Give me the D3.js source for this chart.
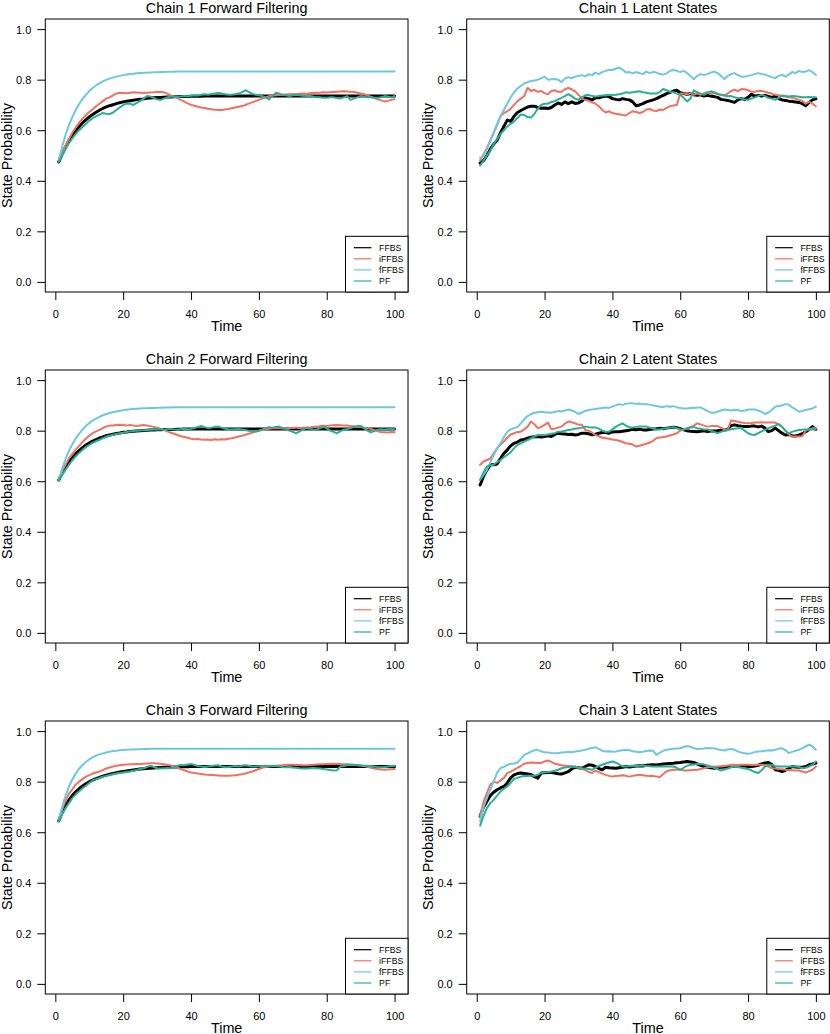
<!DOCTYPE html>
<html><head><meta charset="utf-8">
<script src="https://cdnjs.cloudflare.com/ajax/libs/d3/7.8.5/d3.min.js"></script>
<style>body{margin:0;background:#fff}text{font-family:"Liberation Sans",Arial,Helvetica,sans-serif;fill:#000}</style>
</head><body><svg id="c" width="830" height="1034"></svg>
<script>
const time = d3.range(1, 101);
const seriesNames = ["FFBS", "iFFBS", "fFFBS", "PF"];
const titles = ["Chain 1 Forward Filtering", "Chain 1 Latent States", "Chain 2 Forward Filtering", "Chain 2 Latent States", "Chain 3 Forward Filtering", "Chain 3 Latent States"];
const xTicks = [0, 20, 40, 60, 80, 100];
const yTicks = [0, 0.2, 0.4, 0.6, 0.8, 1.0];

// ---- Chain 1 Forward Filtering
const ffbs1 = [.475,.506,.534,.558,.579,.598,.614,.629,.641,.653,.662,.671,.679,.686,.692,.697,.701,.705,.709,.712,.715,.717,.719,.721,.723,.724,.726,.727,.728,.729,.729,.730,.731,.731,.732,.732,.733,.733,.733,.734,.734,.734,.734,.735,.735,.735,.735,.735,.735,.735,
.735,.735,.735,.735,.735,.735,.735,.735,.735,.735,.735,.735,.735,.735,.735,.735,.735,.735,.735,.735,.735,.735,.735,.735,.735,.735,.735,.735,.735,.735,.735,.735,.735,.735,.735,.735,.735,.735,.735,.735,.735,.735,.735,.735,.735,.735,.735,.735,.735,.735];
const iffbs1 = [.48,.51,.54,.565,.59,.61,.63,.645,.66,.672,.683,.695,.705,.715,.725,.73,.738,.745,.748,.747,.746,.748,.75,.749,.748,.747,.748,.749,.75,.752,.751,.75,.745,.738,.733,.728,.72,.713,.706,.70,.697,.693,.69,.688,.685,.683,.681,.68,.68,.682,
.684,.687,.69,.693,.696,.70,.705,.71,.715,.72,.725,.73,.735,.737,.738,.739,.74,.741,.742,.743,.742,.744,.745,.744,.746,.747,.748,.748,.75,.749,.75,.751,.752,.753,.754,.753,.752,.751,.748,.745,.742,.738,.733,.728,.722,.718,.714,.716,.72,.723];
const fffbs1 = [.480,.535,.581,.620,.652,.680,.704,.724,.740,.755,.767,.777,.785,.793,.799,.804,.808,.812,.815,.818,.820,.822,.823,.825,.826,.827,.827,.828,.829,.829,.830,.830,.831,.831,.831,.832,.832,.832,.832,.832,.832,.832,.832,.832,.832,.832,.832,.832,.832,.832,
.832,.832,.832,.832,.832,.832,.832,.832,.832,.832,.832,.832,.832,.832,.832,.832,.832,.832,.832,.832,.832,.832,.832,.832,.832,.832,.832,.832,.832,.832,.832,.832,.832,.832,.832,.832,.832,.832,.832,.832,.832,.832,.832,.832,.832,.832,.832,.832,.832,.832];
const pf1 = [.475,.50,.525,.548,.568,.585,.60,.613,.625,.638,.648,.655,.662,.668,.665,.664,.67,.68,.69,.70,.705,.705,.70,.708,.715,.725,.735,.733,.728,.722,.72,.725,.73,.732,.733,.731,.733,.735,.734,.736,.738,.737,.74,.742,.74,.743,.745,.747,.745,.742,
.74,.74,.742,.745,.75,.758,.752,.745,.74,.738,.735,.73,.722,.735,.748,.745,.74,.738,.735,.738,.74,.738,.736,.735,.735,.733,.73,.73,.728,.728,.73,.73,.727,.725,.73,.735,.72,.725,.73,.735,.733,.73,.73,.728,.728,.73,.735,.733,.73,.735];

// ---- Chain 1 Latent States
const ffbs2 = [.47,.48,.50,.525,.545,.56,.59,.615,.64,.635,.655,.67,.678,.685,.692,.695,.695,.69,.687,.688,.686,.69,.70,.708,.702,.712,.705,.712,.706,.708,.715,.728,.725,.72,.728,.728,.732,.735,.733,.725,.722,.72,.725,.722,.72,.712,.697,.70,.705,.712,
.716,.72,.725,.732,.738,.745,.75,.755,.758,.748,.745,.742,.745,.74,.738,.74,.735,.738,.735,.733,.73,.722,.72,.718,.714,.71,.72,.725,.722,.73,.742,.735,.738,.735,.738,.734,.73,.735,.725,.72,.718,.715,.714,.712,.71,.705,.697,.71,.72,.724];
const iffbs2 = [.48,.505,.53,.56,.59,.62,.655,.668,.675,.685,.70,.715,.725,.735,.768,.755,.76,.752,.755,.747,.742,.755,.758,.752,.752,.762,.767,.762,.754,.74,.725,.72,.716,.71,.705,.695,.681,.67,.675,.668,.665,.663,.66,.658,.668,.675,.672,.668,.672,.682,
.684,.678,.676,.682,.68,.688,.695,.698,.70,.745,.745,.742,.747,.74,.745,.74,.747,.75,.745,.748,.742,.74,.738,.745,.755,.76,.755,.763,.762,.758,.752,.752,.755,.755,.752,.748,.745,.74,.738,.735,.733,.73,.728,.725,.72,.716,.705,.712,.705,.695];
const fffbs2 = [.49,.50,.525,.56,.59,.625,.655,.68,.705,.73,.75,.765,.775,.785,.79,.795,.797,.80,.805,.812,.80,.802,.803,.80,.79,.805,.81,.805,.812,.815,.818,.813,.822,.818,.828,.822,.83,.835,.838,.838,.843,.848,.84,.828,.83,.825,.83,.826,.822,.832,
.826,.83,.828,.822,.82,.825,.835,.838,.835,.83,.835,.826,.815,.802,.815,.822,.818,.822,.828,.832,.826,.815,.803,.815,.822,.826,.818,.812,.812,.815,.818,.822,.826,.822,.82,.815,.81,.806,.815,.82,.812,.82,.83,.826,.835,.83,.832,.838,.83,.818];
const pf2 = [.46,.48,.50,.52,.545,.565,.585,.60,.615,.625,.635,.648,.662,.66,.652,.65,.665,.685,.70,.705,.705,.712,.715,.722,.728,.735,.743,.735,.725,.72,.73,.738,.74,.735,.733,.735,.737,.737,.74,.738,.74,.742,.745,.75,.748,.75,.752,.754,.75,.748,
.745,.745,.745,.752,.763,.758,.752,.75,.745,.74,.728,.714,.725,.758,.75,.745,.74,.748,.754,.75,.745,.74,.737,.734,.735,.73,.728,.725,.722,.72,.725,.73,.735,.74,.735,.728,.725,.72,.728,.737,.735,.733,.735,.734,.732,.73,.73,.731,.73,.73];

// ---- Chain 2 Forward Filtering
const ffbs3 = [.605,.632,.655,.675,.693,.708,.721,.733,.743,.751,.759,.765,.771,.775,.780,.783,.786,.789,.791,.794,.795,.797,.798,.799,.800,.801,.802,.803,.803,.804,.804,.805,.805,.805,.805,.806,.806,.807,.807,.807,.807,.807,.807,.807,.807,.807,.807,.807,.807,.807,
.807,.807,.807,.807,.807,.807,.807,.807,.807,.807,.807,.807,.807,.807,.807,.807,.807,.807,.807,.807,.807,.807,.807,.807,.807,.807,.807,.807,.807,.807,.807,.807,.807,.807,.807,.807,.807,.807,.807,.807,.807,.807,.807,.807,.807,.807,.807,.807,.807,.807];
const iffbs3 = [.605,.64,.665,.69,.708,.725,.74,.755,.768,.78,.79,.797,.803,.81,.817,.82,.82,.822,.823,.822,.82,.823,.82,.818,.82,.822,.82,.818,.815,.812,.808,.803,.797,.792,.788,.783,.778,.775,.772,.768,.766,.767,.765,.764,.765,.763,.766,.764,.766,.765,
.768,.77,.773,.777,.78,.784,.788,.792,.797,.80,.803,.806,.808,.81,.81,.811,.809,.81,.81,.811,.812,.81,.812,.813,.813,.815,.816,.818,.819,.818,.82,.821,.822,.821,.82,.82,.818,.817,.816,.814,.812,.81,.807,.803,.798,.795,.794,.793,.795,.794];
const fffbs3 = [.605,.650,.687,.719,.746,.769,.788,.804,.818,.830,.840,.848,.855,.861,.866,.870,.873,.876,.879,.881,.883,.885,.886,.887,.888,.889,.889,.890,.890,.891,.891,.892,.892,.892,.893,.893,.893,.893,.893,.893,.893,.893,.893,.893,.893,.893,.893,.893,.893,.893,
.893,.893,.893,.893,.893,.893,.893,.893,.893,.893,.893,.893,.893,.893,.893,.893,.893,.893,.893,.893,.893,.893,.893,.893,.893,.893,.893,.893,.893,.893,.893,.893,.893,.893,.893,.893,.893,.893,.893,.893,.893,.893,.893,.893,.893,.893,.893,.893,.893,.893];
const pf3 = [.605,.625,.645,.665,.683,.698,.712,.724,.735,.744,.752,.758,.764,.77,.776,.78,.784,.787,.79,.792,.795,.797,.799,.80,.801,.802,.803,.804,.805,.806,.805,.804,.806,.807,.805,.804,.806,.808,.806,.807,.81,.815,.819,.814,.81,.812,.815,.816,.812,.808,
.806,.805,.806,.807,.805,.803,.80,.798,.797,.80,.805,.81,.814,.812,.815,.816,.81,.806,.80,.795,.79,.797,.805,.81,.808,.804,.804,.81,.816,.81,.80,.795,.79,.797,.804,.806,.81,.815,.818,.819,.81,.80,.793,.798,.804,.806,.805,.806,.807,.806];

// ---- Chain 2 Latent States
const ffbs4 = [.585,.62,.645,.665,.665,.668,.69,.71,.724,.74,.75,.755,.763,.765,.77,.774,.776,.777,.775,.777,.78,.777,.785,.79,.788,.787,.785,.786,.783,.785,.79,.79,.788,.784,.786,.79,.793,.793,.79,.795,.796,.796,.798,.80,.802,.805,.804,.806,.803,.803,
.805,.807,.808,.81,.808,.81,.812,.814,.812,.808,.803,.80,.798,.797,.796,.798,.80,.797,.799,.799,.80,.802,.803,.805,.82,.823,.82,.818,.816,.816,.818,.818,.815,.818,.81,.796,.80,.81,.80,.79,.783,.785,.78,.779,.782,.788,.796,.805,.816,.805];
const iffbs4 = [.665,.678,.684,.69,.71,.73,.745,.757,.772,.785,.79,.795,.796,.805,.816,.836,.825,.81,.815,.823,.832,.806,.808,.812,.816,.828,.836,.833,.829,.823,.823,.803,.80,.792,.783,.778,.772,.77,.768,.765,.763,.76,.755,.75,.748,.745,.737,.74,.744,.748,
.753,.76,.77,.773,.775,.777,.782,.785,.79,.80,.805,.81,.815,.82,.829,.825,.82,.816,.818,.818,.818,.812,.805,.803,.84,.838,.835,.832,.83,.829,.83,.832,.832,.833,.832,.832,.832,.832,.825,.816,.80,.785,.777,.777,.777,.778,.80,.805,.81,.81];
const fffbs4 = [.605,.625,.645,.675,.704,.73,.75,.775,.796,.805,.81,.815,.829,.845,.858,.865,.871,.873,.875,.873,.872,.871,.874,.878,.876,.88,.884,.88,.874,.866,.872,.878,.882,.884,.886,.888,.89,.892,.89,.895,.90,.905,.902,.906,.908,.908,.906,.907,.905,.905,
.903,.90,.898,.895,.893,.897,.895,.897,.893,.89,.888,.888,.89,.89,.892,.892,.885,.878,.872,.871,.875,.88,.884,.882,.88,.883,.882,.878,.88,.884,.884,.884,.88,.875,.866,.872,.882,.895,.898,.90,.905,.903,.892,.885,.875,.878,.882,.885,.888,.895];
const pf4 = [.605,.635,.658,.662,.665,.675,.684,.695,.704,.715,.73,.744,.75,.757,.763,.77,.777,.783,.783,.783,.785,.788,.79,.796,.797,.80,.803,.805,.808,.81,.812,.816,.814,.813,.813,.808,.80,.796,.796,.805,.815,.823,.829,.82,.813,.813,.815,.816,.816,.816,
.812,.808,.805,.805,.808,.81,.812,.814,.81,.806,.803,.808,.812,.814,.81,.808,.805,.805,.80,.795,.79,.795,.80,.803,.806,.808,.81,.81,.80,.79,.785,.783,.79,.797,.803,.81,.815,.82,.826,.815,.80,.79,.795,.80,.803,.804,.805,.805,.805,.805];

// ---- Chain 3 Forward Filtering
const ffbs5 = [.645,.68,.705,.727,.745,.76,.772,.783,.792,.80,.806,.812,.817,.822,.826,.829,.832,.835,.838,.84,.842,.844,.846,.848,.85,.851,.852,.853,.854,.855,.856,.857,.857,.858,.858,.858,.859,.859,.859,.86,.86,.86,.86,.86,.86,.86,.86,.86,.86,.86,
.86,.86,.86,.86,.86,.86,.86,.86,.86,.86,.86,.86,.86,.86,.86,.86,.86,.86,.86,.86,.86,.86,.86,.86,.86,.86,.86,.86,.86,.86,.86,.86,.86,.86,.86,.86,.86,.86,.86,.86,.86,.86,.86,.86,.86,.86,.86,.86,.86,.86];
const iffbs5 = [.645,.69,.725,.752,.77,.788,.80,.81,.82,.826,.832,.836,.84,.846,.852,.856,.86,.863,.865,.867,.868,.869,.869,.87,.87,.871,.872,.873,.873,.872,.871,.869,.867,.864,.86,.855,.85,.845,.84,.836,.834,.832,.83,.828,.827,.826,.825,.824,.823,.823,
.823,.824,.825,.827,.829,.832,.836,.84,.845,.85,.855,.858,.86,.862,.863,.864,.865,.866,.867,.867,.866,.866,.865,.865,.866,.867,.868,.869,.869,.87,.87,.871,.87,.87,.869,.869,.868,.867,.866,.864,.862,.859,.855,.852,.85,.848,.847,.848,.849,.85];
const fffbs5 = [.645,.700,.744,.780,.809,.832,.851,.866,.878,.888,.896,.903,.908,.912,.915,.918,.921,.922,.924,.925,.926,.927,.927,.928,.928,.929,.929,.93,.93,.93,.93,.93,.93,.93,.93,.93,.93,.93,.93,.93,.93,.93,.93,.93,.93,.93,.93,.93,.93,.93,
.93,.93,.93,.93,.93,.93,.93,.93,.93,.93,.93,.93,.93,.93,.93,.93,.93,.93,.93,.93,.93,.93,.93,.93,.93,.93,.93,.93,.93,.93,.93,.93,.93,.93,.93,.93,.93,.93,.93,.93,.93,.93,.93,.93,.93,.93,.93,.93,.93,.93];
const pf5 = [.645,.67,.695,.715,.735,.75,.762,.774,.784,.795,.805,.81,.815,.82,.823,.826,.829,.832,.834,.836,.838,.84,.843,.846,.85,.853,.858,.863,.858,.853,.852,.853,.854,.853,.856,.863,.866,.865,.868,.87,.866,.862,.86,.858,.86,.862,.864,.865,.86,.857,
.858,.86,.862,.86,.863,.865,.863,.86,.86,.861,.862,.863,.862,.863,.862,.86,.858,.857,.858,.856,.855,.853,.852,.852,.853,.854,.853,.852,.85,.848,.846,.844,.845,.86,.862,.865,.867,.866,.865,.864,.863,.863,.862,.86,.858,.857,.857,.86,.862,.863];

// ---- Chain 3 Latent States
const ffbs6 = [.663,.70,.722,.745,.758,.768,.775,.781,.795,.815,.827,.832,.834,.832,.83,.828,.82,.814,.834,.835,.836,.836,.834,.831,.83,.835,.84,.85,.857,.855,.853,.86,.867,.865,.86,.852,.847,.857,.855,.854,.853,.855,.857,.86,.858,.86,.862,.863,.862,.865,
.866,.867,.866,.868,.87,.871,.872,.873,.875,.876,.878,.88,.878,.876,.87,.865,.86,.857,.855,.853,.855,.857,.857,.858,.86,.861,.862,.863,.862,.86,.86,.862,.865,.87,.874,.876,.868,.847,.845,.84,.845,.852,.86,.858,.857,.857,.86,.867,.87,.874];
const iffbs6 = [.663,.72,.755,.788,.80,.795,.805,.815,.834,.84,.847,.855,.862,.871,.874,.876,.875,.874,.874,.88,.884,.878,.871,.868,.865,.863,.862,.861,.86,.855,.85,.847,.838,.834,.844,.838,.832,.827,.823,.82,.822,.823,.825,.823,.82,.823,.825,.827,.825,.823,
.822,.823,.82,.818,.83,.841,.845,.847,.847,.847,.845,.844,.845,.846,.847,.85,.853,.857,.858,.86,.86,.86,.862,.864,.866,.867,.866,.867,.867,.867,.866,.866,.867,.867,.865,.86,.853,.852,.85,.849,.847,.846,.845,.844,.844,.84,.836,.842,.847,.86];
const fffbs6 = [.645,.70,.735,.77,.80,.835,.854,.858,.866,.871,.872,.875,.89,.906,.912,.919,.924,.926,.92,.916,.915,.913,.912,.913,.915,.916,.918,.916,.919,.921,.923,.926,.93,.933,.936,.93,.922,.919,.92,.918,.919,.922,.924,.926,.924,.92,.918,.916,.918,.921,
.923,.922,.906,.915,.922,.926,.928,.93,.931,.932,.937,.941,.938,.932,.929,.93,.931,.933,.932,.932,.928,.925,.923,.927,.929,.926,.92,.915,.912,.91,.913,.917,.919,.92,.922,.924,.923,.926,.93,.932,.925,.913,.918,.922,.926,.932,.94,.946,.94,.926];
const pf6 = [.626,.665,.695,.715,.728,.745,.761,.772,.781,.795,.811,.815,.82,.823,.822,.823,.823,.828,.834,.836,.838,.84,.843,.847,.853,.856,.858,.86,.858,.855,.853,.852,.85,.847,.855,.862,.867,.872,.876,.88,.875,.868,.86,.86,.862,.863,.862,.863,.863,.862,
.861,.86,.86,.86,.86,.86,.86,.86,.855,.847,.855,.863,.866,.868,.87,.871,.868,.864,.86,.855,.85,.844,.848,.852,.857,.86,.858,.855,.852,.85,.845,.838,.834,.845,.86,.867,.865,.862,.86,.86,.86,.86,.86,.86,.858,.853,.855,.86,.867,.88];

const panelData = [
  [ffbs1, iffbs1, fffbs1, pf1],
  [ffbs2, iffbs2, fffbs2, pf2],
  [ffbs3, iffbs3, fffbs3, pf3],
  [ffbs4, iffbs4, fffbs4, pf4],
  [ffbs5, iffbs5, fffbs5, pf5],
  [ffbs6, iffbs6, fffbs6, pf6]
];

const colors = ["#000000", "#F1705F", "#6DC7E0", "#27B096"];
const widths = [3, 2, 2, 2];

const svg = d3.select("#c");
svg.append("rect").attr("width", 830).attr("height", 1034).attr("fill", "#fff");

panelData.forEach((ser, i) => {
  const col = i % 2, row = Math.floor(i / 2);
  const L = col ? 466.7 : 45.3, R = col ? 829.3 : 408;
  const T = 19 + row * 351, B = 292 + row * 351;
  const x = d3.scaleLinear().domain([1 - 0.04 * 99, 100 + 0.04 * 99]).range([L, R]);
  const y = d3.scaleLinear().domain([-0.04, 1.04]).range([B, T]);
  const g = svg.append("g");

  // axes
  const xa = g.append("g").attr("transform", `translate(0,${B})`)
    .call(d3.axisBottom(x).tickValues(xTicks).tickSize(8).tickFormat(d3.format("d")));
  xa.select(".domain").remove();
  xa.selectAll("line").attr("stroke", "#000");
  xa.selectAll("text").attr("y", 25.7).attr("dy", null).style("font-size", "11px").attr("fill", "#000");

  const ya = g.append("g").attr("transform", `translate(${L},0)`)
    .call(d3.axisLeft(y).tickValues(yTicks).tickSize(8).tickFormat(d3.format(".1f")));
  ya.select(".domain").remove();
  ya.selectAll("line").attr("stroke", "#000");
  ya.selectAll("text").attr("x", -14).attr("dy", "0.36em").style("font-size", "11px").attr("fill", "#000");

  // lines
  const line = d3.line().x((d, j) => x(time[j])).y(d => y(d));
  ser.forEach((s, k) => {
    g.append("path").datum(s).attr("d", line).attr("fill", "none")
      .attr("stroke", colors[k]).attr("stroke-width", widths[k])
      .attr("stroke-linejoin", "round").attr("stroke-linecap", "round");
  });

  // box
  g.append("rect").attr("x", L).attr("y", T).attr("width", R - L).attr("height", B - T)
    .attr("fill", "none").attr("stroke", "#000").attr("stroke-width", 1);

  // legend
  const lw = 62.5, lh = 55.7;
  const lg = g.append("g").attr("transform", `translate(${R - lw},${B - lh})`);
  lg.append("rect").attr("width", lw).attr("height", lh).attr("fill", "#fff").attr("stroke", "#000").attr("stroke-width", 1);
  seriesNames.forEach((n, k) => {
    const yy = 11.4 + k * 11.1;
    lg.append("line").attr("x1", 8.3).attr("x2", 26).attr("y1", yy).attr("y2", yy)
      .attr("stroke", colors[k]).attr("stroke-width", 1.2);
    lg.append("text").attr("x", 33.6).attr("y", yy).attr("dy", "0.35em").style("font-size", "8.7px").text(n);
  });

  // titles
  g.append("text").attr("x", (L + R) / 2).attr("y", T - 6.5).attr("text-anchor", "middle")
    .style("font-size", "14.4px").text(titles[i]);
  g.append("text").attr("x", (L + R) / 2).attr("y", B + 38.5).attr("text-anchor", "middle")
    .style("font-size", "14.4px").text("Time");
  g.append("text").attr("transform", `translate(${L - 33.5},${(T + B) / 2}) rotate(-90)`)
    .attr("text-anchor", "middle").style("font-size", "14.4px").text("State Probability");
});
</script></body></html>
